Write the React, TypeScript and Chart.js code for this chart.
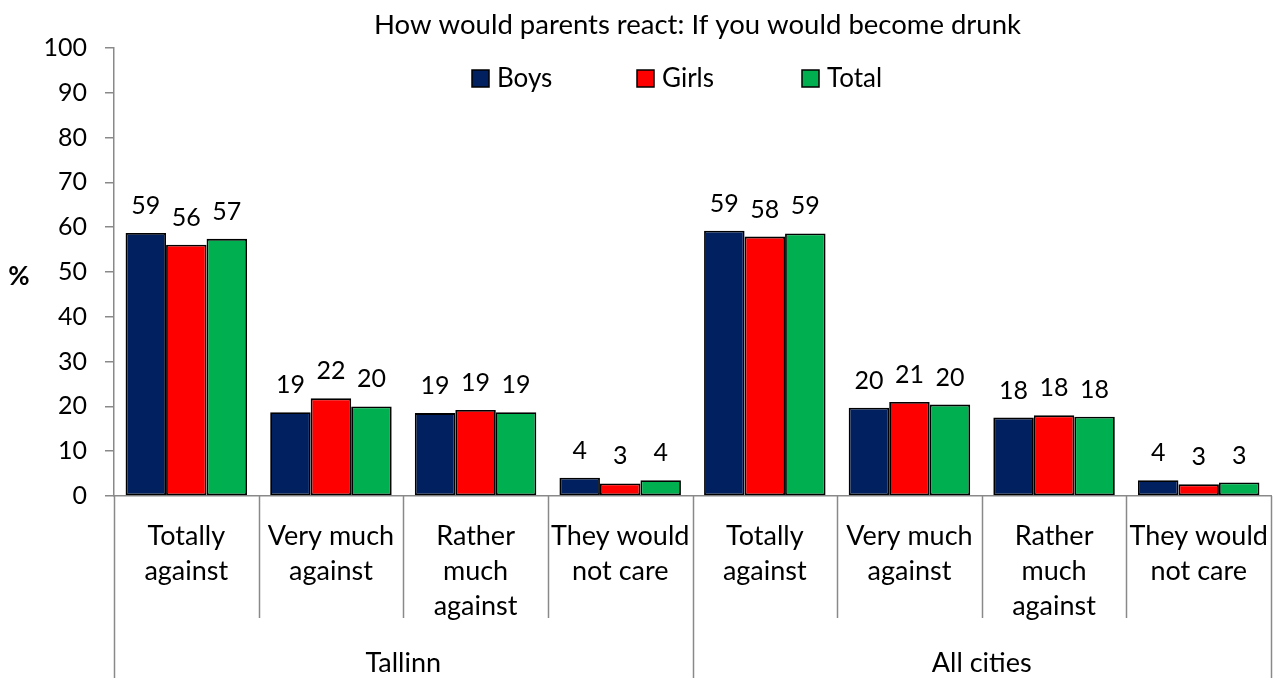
import React, { useEffect, useRef } from "react";
import { Chart, registerables } from "chart.js";

Chart.register(...registerables);

const categories: string[][] = [
  ["Totally", "against"],
  ["Very much", "against"],
  ["Rather", "much", "against"],
  ["They would", "not care"],
  ["Totally", "against"],
  ["Very much", "against"],
  ["Rather", "much", "against"],
  ["They would", "not care"],
];
const groups = ["Tallinn", "All cities"];
const groupSize = 4;

const seriesNames = ["Boys", "Girls", "Total"];
const boys = [58.7, 18.7, 18.5, 4.1, 59.2, 19.7, 17.5, 3.5];
const girls = [56.1, 21.8, 19.2, 2.8, 57.9, 21.0, 18.0, 2.6];
const total = [57.4, 20.0, 18.7, 3.5, 58.6, 20.4, 17.7, 3.0];
const colors = ["#002060", "#FF0000", "#00B050"];

const yTicks = [0, 10, 20, 30, 40, 50, 60, 70, 80, 90, 100];
const titleText = "How would parents react: If you would become drunk";
const yTitle = "%";

const FONT = "Lato, Carlito, Calibri, sans-serif";
const GRAY = "#898989";

const decoPlugin = {
  id: "deco",
  afterDraw(chart: any) {
    const { ctx, scales } = chart;
    const x = scales.x;
    const y = scales.y;
    const n = categories.length;
    const w = (x.right - x.left) / n;
    ctx.save();
    // category dividers
    ctx.strokeStyle = GRAY;
    ctx.lineWidth = 1.5;
    for (let i = 0; i <= n; i++) {
      const px = i < n ? x.getPixelForValue(i) - w / 2 : x.getPixelForValue(n - 1) + w / 2;
      const isGroup = i % groupSize === 0;
      ctx.beginPath();
      ctx.moveTo(Math.round(px) + 0.5, y.bottom);
      ctx.lineTo(Math.round(px) + 0.5, isGroup ? chart.height : y.bottom + 122);
      ctx.stroke();
    }
    // group labels
    ctx.fillStyle = "#000";
    ctx.font = `27px ${FONT}`;
    ctx.textAlign = "center";
    ctx.textBaseline = "middle";
    groups.forEach((g, gi) => {
      const a = x.getPixelForValue(gi * groupSize);
      const b = x.getPixelForValue(gi * groupSize + groupSize - 1);
      ctx.fillText(g, (a + b) / 2, 663);
    });
    // data labels
    ctx.font = `25px ${FONT}`;
    ctx.textBaseline = "alphabetic";
    chart.data.datasets.forEach((ds: any, di: number) => {
      const meta = chart.getDatasetMeta(di);
      meta.data.forEach((bar: any, i: number) => {
        ctx.fillText(String(Math.round(ds.data[i])), bar.x, bar.y - 19);
      });
    });
    // title
    ctx.font = `27.5px ${FONT}`;
    ctx.textBaseline = "middle";
    ctx.fillText(titleText, (x.left + x.right) / 2 + 5, 25);
    // y title
    ctx.font = `bold 26px ${FONT}`;
    ctx.fillText(yTitle, 19, 277);
    // legend
    ctx.font = `26px ${FONT}`;
    ctx.textAlign = "left";
    const legendLeft = 472;
    const step = 165;
    chart.data.datasets.forEach((ds: any, di: number) => {
      const bx = legendLeft + di * step;
      ctx.fillStyle = ds.backgroundColor;
      ctx.fillRect(bx, 70, 17, 17);
      ctx.strokeStyle = "#000";
      ctx.lineWidth = 1.5;
      ctx.strokeRect(bx, 70, 17, 17);
      ctx.fillStyle = "#000";
      ctx.fillText(ds.label, bx + 25, 79);
    });
    ctx.restore();
  },
};

export default function App() {
  const ref = useRef<HTMLCanvasElement | null>(null);
  useEffect(() => {
    document.body.style.margin = "0";
    if (!ref.current) return;
    const chart = new Chart(ref.current, {
      type: "bar",
      data: {
        labels: categories as any,
        datasets: [boys, girls, total].map((d, i) => ({
          label: seriesNames[i],
          data: d,
          backgroundColor: colors[i],
          borderColor: "#000",
          borderWidth: 1.8,
          borderSkipped: false,
          categoryPercentage: 0.84,
          barPercentage: 1.0,
        })),
      },
      options: {
        responsive: false,
        animation: false,
        layout: { padding: { top: 48, right: 15, left: 0, bottom: 0 } },
        plugins: {
          legend: { display: false },
          title: { display: false },
          tooltip: { enabled: false },
        },
        scales: {
          x: {
            grid: { display: false, drawTicks: false },
            border: { display: true, color: GRAY, width: 1.5 },
            ticks: {
              autoSkip: false,
              maxRotation: 0,
              minRotation: 0,
              padding: 23,
              color: "#000",
              font: { family: FONT, size: 27, lineHeight: 1.3 },
            },
            afterFit: (s: any) => {
              s.height = 182;
              s.paddingLeft = 0;
              s.paddingRight = 0;
            },
          },
          y: {
            min: 0,
            max: 100,
            afterBuildTicks: (s: any) => {
              s.ticks = yTicks.map((v) => ({ value: v }));
            },
            grid: { drawOnChartArea: false, tickLength: 9, color: GRAY, lineWidth: 1.5 },
            border: { display: true, color: GRAY, width: 1.5 },
            ticks: {
              padding: 18,
              color: "#000",
              font: { family: FONT, size: 25 },
            },
            afterFit: (s: any) => {
              s.width = 114;
              s.paddingTop = 0;
              s.paddingBottom = 0;
            },
          },
        },
      },
      plugins: [decoPlugin],
    });
    return () => chart.destroy();
  }, []);
  return (
    <div style={{ width: 1286, height: 678 }}>
      <canvas ref={ref} width={1286} height={678} />
    </div>
  );
}
